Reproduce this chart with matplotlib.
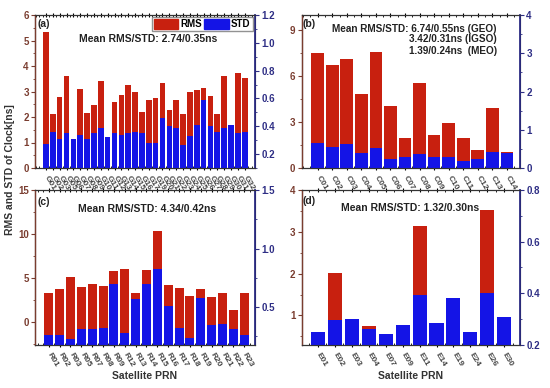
import matplotlib
matplotlib.use("Agg")
import matplotlib.pyplot as plt
from matplotlib.ticker import MultipleLocator, FormatStrFormatter
from matplotlib.patches import Patch

plt.rcParams["font.family"] = ["Liberation Sans", "DejaVu Sans"]

# ---------------- data ----------------
gps_prn = ["G01", "G02", "G03", "G05", "G06", "G07", "G08", "G09", "G10", "G11",
           "G12", "G13", "G14", "G15", "G16", "G17", "G19", "G20", "G21", "G22",
           "G23", "G24", "G25", "G26", "G27", "G28", "G29", "G30", "G31", "G32"]
gps_rms = [5.35, 2.10, 2.80, 3.60, 1.00, 3.10, 2.15, 2.48, 3.40, 1.00,
           2.57, 2.87, 3.25, 2.98, 2.18, 2.67, 2.75, 3.33, 2.27, 2.67,
           2.10, 3.00, 3.05, 3.13, 2.82, 2.12, 3.60, 1.50, 3.71, 3.52]
gps_std = [0.27, 0.36, 0.31, 0.35, 0.31, 0.34, 0.31, 0.35, 0.39, 0.32,
           0.35, 0.34, 0.35, 0.36, 0.35, 0.28, 0.28, 0.46, 0.40, 0.385,
           0.265, 0.33, 0.41, 0.59, 0.40, 0.36, 0.39, 0.41, 0.35, 0.36]

bds_prn = ["C01", "C02", "C03", "C04", "C05", "C06", "C07", "C08", "C09", "C10",
           "C11", "C12", "C13", "C14"]
bds_rms = [7.49, 6.73, 7.12, 4.83, 7.60, 4.07, 1.94, 5.53, 2.15, 2.96,
           1.98, 1.17, 3.94, 1.06]
bds_std = [0.66, 0.56, 0.63, 0.40, 0.51, 0.23, 0.30, 0.37, 0.30, 0.28,
           0.18, 0.23, 0.43, 0.38]

glo_prn = ["R01", "R02", "R03", "R05", "R07", "R08", "R09", "R12", "R13", "R14",
           "R15", "R16", "R17", "R18", "R19", "R20", "R21", "R22", "R23"]
glo_rms = [3.33, 3.70, 5.13, 3.96, 4.26, 4.07, 5.77, 6.00, 3.25, 5.85,
           10.30, 4.19, 3.81, 2.99, 3.70, 2.80, 3.25, 1.36, 3.33]
glo_std = [0.26, 0.26, 0.23, 0.31, 0.31, 0.32, 0.70, 0.28, 0.57, 0.70,
           0.83, 0.51, 0.32, 0.24, 0.58, 0.35, 0.36, 0.31, 0.26]

gal_prn = ["E01", "E02", "E03", "E04", "E07", "E09", "E11", "E14", "E19", "E24",
           "E26", "E30"]
gal_rms = [0.50, 2.02, 0.80, 0.74, 0.45, 0.70, 3.14, 0.70, 0.90, 0.50,
           3.52, 0.80]
gal_std = [0.248, 0.297, 0.30, 0.262, 0.241, 0.277, 0.393, 0.284, 0.383, 0.251,
           0.40, 0.307]

# ---------------- style ----------------
RMS_C = "#C8200F"
STD_C = "#1414E6"
LEFT_C = "#7a3d30"
RIGHT_C = "#2e2e85"
TXT_C = "#222222"

W, H = 550, 388
fig = plt.figure(figsize=(5.5, 3.88), dpi=100)


def rect(x0, y0, x1, y1):
    return [x0 / W, 1 - y1 / H, (x1 - x0) / W, (y1 - y0) / H]


def panel(box, prn, rms, std, xlim, lylim, rylim, lmaj, lmin, rmaj, rmin, width):
    ax = fig.add_axes(rect(*box))
    x = list(range(len(prn)))
    lo = lylim[0]
    ax.bar(x, [v - lo for v in rms], width=width, color=RMS_C, edgecolor="none",
           bottom=lo)
    ax.set_xlim(*xlim)
    ax.set_ylim(*lylim)
    ax2 = ax.twinx()
    rlo = rylim[0]
    ax2.bar(x, [v - rlo for v in std], width=width, color=STD_C, edgecolor="none",
            bottom=rlo)
    ax2.set_ylim(*rylim)
    ax.set_xticks(x)
    ax.set_xticklabels(prn, rotation=-60, ha="left", va="center",
                       rotation_mode="anchor", fontsize=6, fontweight="bold",
                       color="#444444")
    ax.tick_params(axis="x", which="major", length=2.5, direction="inout", top=True,
                   pad=5)
    ax.xaxis.set_minor_locator(MultipleLocator(0.5))
    ax.tick_params(axis="x", which="minor", length=1.5, direction="in", top=True)
    ax.yaxis.set_major_locator(MultipleLocator(lmaj))
    ax.yaxis.set_minor_locator(MultipleLocator(lmin))
    ax.tick_params(axis="y", which="major", length=3, direction="out",
                   colors=LEFT_C, labelsize=7, pad=1.5)
    ax.tick_params(axis="y", which="minor", length=1.5, direction="out", colors=LEFT_C)
    for lab in ax.get_yticklabels():
        lab.set_fontweight("bold")
    ax2.yaxis.set_major_locator(MultipleLocator(rmaj))
    ax2.yaxis.set_minor_locator(MultipleLocator(rmin))
    ax2.tick_params(axis="y", which="major", length=3, direction="out",
                    colors=RIGHT_C, labelsize=7, pad=1.5)
    ax2.tick_params(axis="y", which="minor", length=1.5, direction="out", colors=RIGHT_C)
    for lab in ax2.get_yticklabels():
        lab.set_fontweight("bold")
    ax2.spines["left"].set_color(LEFT_C)
    ax2.spines["right"].set_color(RIGHT_C)
    ax2.spines["right"].set_linewidth(1.3)
    ax2.spines["left"].set_linewidth(1.0)
    for s in ("top", "bottom"):
        ax2.spines[s].set_color("#333333")
    return ax, ax2


def txt(x, y, s, ha="center", size=7.5):
    fig.text(x / W, 1 - y / H, s, fontsize=size, fontweight="bold", ha=ha,
             va="center", color=TXT_C)


# (a) GPS
axa, axa2 = panel((35, 15, 255, 168), gps_prn, gps_rms, gps_std, (-1.6, 30.5),
                  (0, 6), (0.1, 1.2), 1, 0.5, 0.2, 0.1, 0.82)
axa.yaxis.set_major_formatter(FormatStrFormatter("%d"))
axa2.set_yticks([0.2, 0.4, 0.6, 0.8, 1.0, 1.2])
axa2.yaxis.set_major_formatter(FormatStrFormatter("%.1f"))
axa2.legend(handles=[Patch(color=RMS_C, label="RMS"), Patch(color=STD_C, label="STD")],
            loc="upper right", ncol=2, prop={"weight": "bold", "size": 7},
            frameon=True, fancybox=False, edgecolor="#777777", handlelength=2.5,
            handleheight=1.1, borderpad=0.2, columnspacing=0.2, handletextpad=0.25,
            borderaxespad=0.25)
txt(44, 24, "(a)", ha="center", size=7.5)
txt(148, 39, "Mean RMS/STD: 2.74/0.35ns")

# (b) BDS
axb, axb2 = panel((301.7, 15, 520, 168), bds_prn, bds_rms, bds_std, (-1.1, 13.9),
                  (0, 10), (0, 4), 3, 1.5, 1, 0.5, 0.87)
txt(309, 24, "(b)", size=7.5)
txt(497, 28.5, "Mean RMS/STD: 6.74/0.55ns (GEO)", ha="right", size=7.2)
txt(497, 39.5, "3.42/0.31ns (IGSO)", ha="right", size=7.2)
txt(497, 51, "1.39/0.24ns  (MEO)", ha="right", size=7.2)

# (c) GLONASS
axc, axc2 = panel((35, 190, 255, 344.7), glo_prn, glo_rms, glo_std, (-1.27, 19.0),
                  (-2.6, 15), (0.18, 1.5), 5, 2.5, 0.5, 0.25, 0.83)
txt(44, 202, "(c)")
txt(147, 209, "Mean RMS/STD: 4.34/0.42ns")
axc.set_xlabel("Satellite PRN", fontsize=7.5, fontweight="bold", color="#333333",
               labelpad=2)

# (d) Galileo
axd, axd2 = panel((301.7, 190, 520, 344.7), gal_prn, gal_rms, gal_std, (-0.96, 11.93),
                  (0.3, 4), (0.2, 0.8), 1, 0.5, 0.2, 0.1, 0.83)
axd2.yaxis.set_major_formatter(FormatStrFormatter("%.1f"))
txt(309, 201, "(d)")
txt(410, 208, "Mean RMS/STD: 1.32/0.30ns")
axd.set_xlabel("Satellite PRN", fontsize=7.5, fontweight="bold", color="#333333",
               labelpad=2)

fig.text(10 / W, 1 - 170 / H, "RMS and STD of Clock[ns]", rotation=90, fontsize=7.5,
         fontweight="bold", ha="center", va="center", color="#333333")

fig.savefig("out.png", dpi=100)
